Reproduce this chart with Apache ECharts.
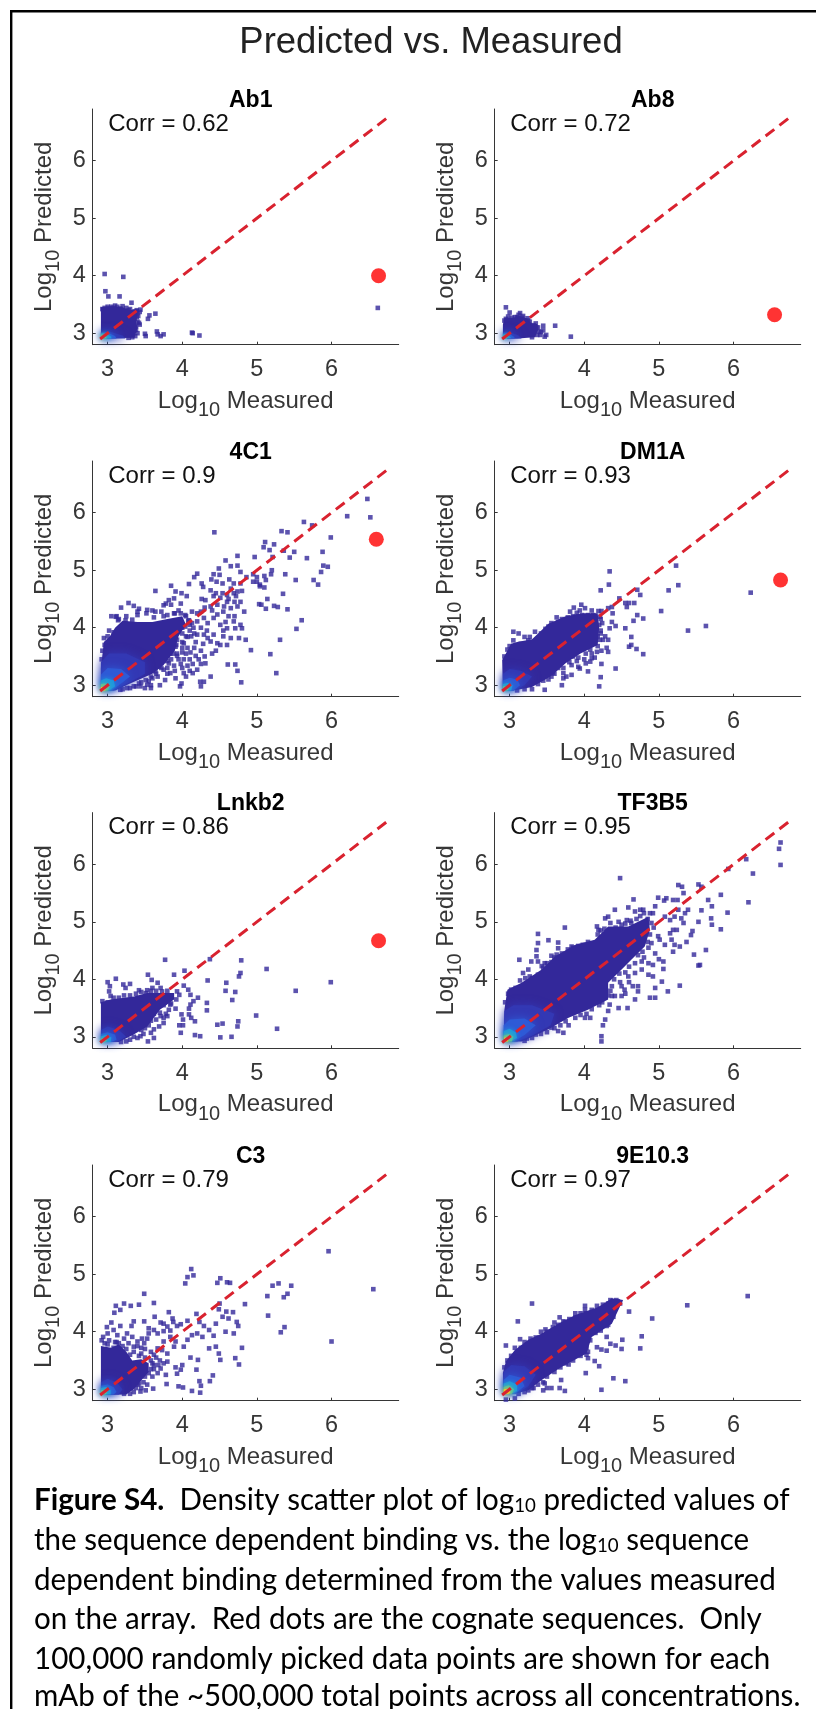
<!DOCTYPE html>
<html><head><meta charset="utf-8">
<style>html,body{margin:0;padding:0;background:#fff}#c{width:816px;height:1709px}</style>
<script src="https://cdn.jsdelivr.net/npm/echarts@6/dist/echarts.min.js"></script>
</head><body><div id="c"></div>
<script>
const mainTitle = 'Predicted vs. Measured';
const panelNames = ['Ab1','Ab8','4C1','DM1A','Lnkb2','TF3B5','C3','9E10.3'];
const corrValues = ['0.62','0.72','0.9','0.93','0.86','0.95','0.79','0.97'];
const tickValues = [3,4,5,6];
const diagonal = [[2.9,2.9],[6.8,6.8]];
const cognate = [[6.63,4.0],[6.55,3.32],[6.6,5.54],[6.63,4.83],[6.63,4.67],null,null,null];

// scattered points, as x,y pairs
const pointsAb1 = [2.96,4.03,3.21,3.98,2.97,3.73,3.01,3.64,3.16,3.64,3.32,3.53,6.62,3.44,3.64,3.34,3.56,3.31,3.54,3.25,3.5,2.99,3.51,2.95,3.66,3.03,3.67,2.98,3.71,2.95,3.75,2.98,4.13,3.01,4.14,3.0,4.23,2.96,3.44,3.41,3.4,3.35,3.42,3.18,3.38,3.06,3.1,3.48,3.0,3.46,3.17,3.43,3.25,3.44,3.36,3.38,2.96,3.44,3.05,3.46,3.39,3.28,3.37,2.95,3.3,3.42,
 2.93,3.42,3.02,3.43,3.08,3.44,3.13,3.46,3.2,3.47,3.28,3.4,3.34,3.36,3.39,3.4,3.43,3.37,3.41,3.3,3.36,3.25,3.4,3.2,3.43,3.15,3.38,3.12,3.4,3.0,3.36,3.05,3.33,2.93,3.28,2.92];
const pointsAb8 = [2.95,3.45,3.0,3.36,3.14,3.35,3.61,3.13,3.45,3.13,3.82,2.94,3.49,2.97,3.47,2.94,3.41,2.97,3.18,3.3,2.98,3.29,3.03,3.27,3.1,3.28,3.24,3.26,3.35,3.17,3.38,3.1,3.25,3.22,2.95,3.25,
 2.93,3.22,3.0,3.2,3.07,3.28,3.12,3.32,3.17,3.27,3.21,3.22,3.27,3.2,3.32,3.14,3.36,3.1,3.39,3.03,3.37,2.97,3.3,2.93,3.45,3.05,3.42,3.02];
const points4C1 = [6.48,6.24,6.52,5.92,6.21,5.94,5.63,5.84,5.74,5.78,5.99,5.57,5.33,5.68,5.41,5.66,4.43,5.66,5.11,5.49,5.23,5.45,5.09,5.40,5.17,5.35,5.36,5.34,5.5,5.32,5.88,5.32,5.21,5.23,5.44,5.22,5.67,5.21,4.97,5.23,4.74,5.25,4.58,5.17,4.65,5.07,4.74,5.08,4.49,5.03,5.89,5.08,5.95,5.06,5.86,4.97,5.2,5.0,5.19,4.93,5.38,4.93,4.78,4.97,4.2,4.94,4.16,4.88,4.42,4.93,4.5,4.92,5.1,4.9,5.0,4.88,5.76,4.83,5.82,4.75,5.52,4.83,4.86,4.88,4.95,4.93,5.12,4.83,5.0,4.8,5.04,4.75,5.1,4.7,4.95,4.8,
3.64,4.64,3.85,4.73,3.91,4.63,3.99,4.6,3.82,4.48,3.89,4.51,3.98,4.42,4.06,4.55,4.09,4.76,4.26,4.77,4.28,4.71,4.39,4.84,4.46,4.8,4.54,4.77,4.63,4.84,4.69,4.77,4.78,4.77,4.8,4.64,4.65,4.68,4.6,4.57,4.54,4.6,4.51,4.52,4.69,4.6,4.74,4.63,4.26,4.5,4.31,4.48,4.38,4.37,4.47,4.4,4.56,4.37,4.65,4.34,4.74,4.37,4.78,4.45,4.83,4.28,
4.13,4.28,4.2,4.25,4.25,4.28,4.29,4.17,4.2,4.11,4.34,4.08,4.42,4.17,4.47,4.23,4.51,4.05,4.6,3.99,4.69,4.11,4.78,4.05,4.8,3.99,4.71,3.99,4.76,3.82,4.65,3.82,4.85,3.79,4.2,3.88,4.29,3.88,4.34,3.82,4.42,3.88,4.38,3.76,4.47,3.73,4.51,3.7,4.6,3.7,4.25,3.6,4.16,3.65,4.11,3.57,4.18,3.51,4.07,3.65,4.0,3.57,4.02,3.45,3.93,3.51,3.89,3.34,3.98,3.37,4.07,3.34,4.14,3.37,4.25,3.37,4.31,3.38,4.2,3.27,4.14,3.21,4.02,3.21,3.91,3.12,3.84,3.21,3.77,3.09,3.7,3.0,3.99,3.03,3.97,2.98,4.24,3.06,4.25,2.98,4.29,3.06,4.38,3.15,4.61,3.36,4.71,3.36,4.74,3.25,4.79,3.05,4.92,3.61,5.18,3.54,5.26,3.21,5.31,3.79,5.53,3.98,5.6,4.13,5.41,4.32,5.23,4.38,5.28,4.36,5.03,4.41,5.06,4.4,5.12,4.33,5.14,4.5,5.35,4.59,5.04,4.72,
3.18,4.35,3.28,4.43,3.35,4.38,3.42,4.33,3.52,4.25,3.6,4.3,3.72,4.28,3.78,4.42,3.85,4.4,3.95,4.3,3.05,4.2,3.12,4.2,3.15,4.15,3.25,4.2,3.4,4.22,3.62,4.18,3.75,4.2,2.95,3.82,3.0,3.85,3.02,3.95,3.08,3.92,3.9,4.25,4.05,4.2,3.97,4.05,4.08,4.12,4.1,3.95,4.05,3.85,4.0,3.75,3.92,3.7,3.88,3.55,3.8,3.42,3.72,3.3,3.6,3.12,3.55,3.07,3.45,3.05,3.38,2.98,3.3,2.95,3.2,2.93,3.5,2.95,3.58,3.0,3.65,3.2,3.8,3.2,
3.11,4.19,3.14,4.13,3.24,4.13,3.33,4.14,3.4,4.28,3.53,4.31,3.64,4.28,3.75,4.39,3.8,4.22,3.89,4.25,3.98,4.25,4.04,4.22,4.09,4.13,4.13,4.08,4.04,4.02,4.16,3.9,4.07,3.84,4.0,3.9,3.93,3.79,4.02,3.73,3.91,3.67,3.84,3.55,3.93,3.55,3.75,3.44,3.82,3.38,3.69,3.32,3.75,3.27,3.64,3.24,3.58,3.15,3.67,3.15,3.51,3.09,3.42,3.03,3.53,3.01,3.35,2.98,3.26,2.95,3.17,2.92,3.44,2.98,3.58,2.95,
4.0,4.0,3.95,4.1,4.1,4.05,4.15,4.0,4.25,4.0,4.33,3.95,4.12,3.85,4.18,3.75,4.28,3.72,4.05,3.55,4.0,3.65,3.95,3.45,3.85,3.45,3.9,3.25,4.0,3.3,4.1,3.45,4.05,3.15,3.8,3.3,4.1,3.25,4.22,3.45,4.3,3.5,4.4,3.55,4.45,3.6,4.55,3.85,4.55,3.95,4.58,4.1,4.62,4.2,4.55,4.28,4.7,4.2,4.4,4.3,4.3,4.35,4.6,4.45,4.7,4.45,4.72,4.55,4.62,4.5,4.45,4.6,4.38,4.65,4.42,4.55,2.93,3.6,2.96,3.7,2.92,3.45,3.03,3.78];
const pointsDM1A = [4.34,4.98,5.23,5.08,4.33,4.75,4.22,4.65,5.26,4.74,5.13,4.65,6.23,4.61,4.71,4.66,4.75,4.57,4.47,4.51,4.55,4.43,4.6,4.43,4.67,4.43,4.57,4.36,5.03,4.29,4.71,4.22,4.79,4.16,4.66,4.12,4.37,4.36,4.32,4.34,4.38,4.25,4.37,4.1,4.42,4.03,4.34,3.99,4.55,3.99,5.39,3.95,5.63,4.03,4.63,3.84,4.63,3.7,4.6,3.67,4.7,3.63,4.79,3.54,4.32,3.79,4.25,3.79,4.32,3.58,4.23,3.6,4.17,3.58,4.23,3.37,4.1,3.47,4.14,3.48,4.02,3.38,4.08,3.41,4.42,3.29,4.22,3.14,4.2,2.98,4.05,3.24,3.92,3.32,3.94,3.29,3.83,3.35,3.76,3.15,3.7,3.0,3.47,2.92,3.56,3.15,3.6,3.2,3.83,3.18,3.72,3.21,
3.05,3.93,3.12,3.9,3.34,3.93,3.2,3.84,3.27,3.84,3.63,4.18,3.56,4.08,3.74,4.1,3.81,4.28,3.86,4.35,3.94,4.3,3.96,4.4,4.01,4.34,4.1,4.3,4.19,4.29,4.23,4.29,3.9,4.26,4.21,4.19,4.24,4.08,4.22,3.9,4.21,3.79,
2.93,3.5,2.97,3.62,3.0,3.68,3.05,3.78,3.15,3.72,3.25,3.78,3.38,3.75,3.42,3.9,3.48,3.98,3.52,4.02,3.6,4.05,3.65,4.1,3.7,4.15,3.78,4.18,3.85,4.2,3.92,4.2,3.97,4.22,4.05,4.22,4.12,4.22,4.22,4.15,4.2,4.05,4.22,3.95,4.18,3.85,4.13,3.75,4.18,3.68,4.08,3.62,4.02,3.55,3.92,3.48,3.85,3.5,3.8,3.4,3.72,3.3,3.65,3.3,3.58,3.22,3.52,3.1,3.45,3.08,3.38,3.02,3.3,2.93,3.2,2.93,3.1,2.91,3.9,3.42,3.72,3.12,4.0,3.45,4.1,3.55,4.3,3.65,4.28,3.85];
const pointsLnkb2 = [3.77,4.34,4.79,4.33,5.13,4.18,4.37,4.35,3.89,4.08,4.03,4.15,3.54,4.08,3.59,3.99,3.67,3.94,3.11,4.01,3.0,3.95,3.03,3.88,3.02,3.79,3.04,3.71,3.21,3.91,3.3,3.92,3.24,3.85,3.42,3.81,3.53,3.81,3.51,3.76,3.71,3.85,3.73,3.79,4.34,3.98,4.59,3.94,4.78,4.11,4.76,4.05,4.58,3.8,4.71,3.78,4.67,3.64,5.52,3.8,5.99,3.95,3.93,3.79,3.96,3.73,4.02,3.89,4.08,3.82,4.11,3.73,4.21,3.68,4.15,3.62,4.11,3.56,4.09,3.49,4.33,3.59,4.33,3.46,3.99,3.39,4.01,3.3,4.09,3.39,4.12,3.33,4.17,3.27,3.96,3.2,4.01,3.2,3.98,3.07,4.17,3.03,4.24,3.01,4.99,3.37,4.75,3.27,4.74,3.18,5.27,3.14,4.47,3.21,4.54,3.23,4.51,2.99,4.66,3.0,3.91,3.49,3.82,3.47,3.8,3.36,3.75,3.33,3.75,3.24,3.69,3.18,3.62,3.13,3.58,3.07,3.62,2.98,3.54,2.92,3.84,3.56,3.67,3.53,3.4,2.98,3.44,3.01,3.71,3.36,
2.93,3.62,3.0,3.6,3.08,3.68,3.15,3.68,3.22,3.72,3.3,3.72,3.38,3.75,3.45,3.78,3.58,3.8,3.65,3.8,3.8,3.8,3.86,3.72,3.92,3.65,3.85,3.58,3.75,3.55,3.7,3.42,3.62,3.4,3.58,3.28,3.5,3.15,3.45,3.12,3.35,3.0,3.3,2.95,3.25,2.92,3.18,2.91,3.55,3.2,3.48,3.05,3.78,3.4,3.65,3.3,3.6,3.85,3.82,3.7];
const pointsTF3B5 = [6.63,6.38,6.61,6.27,6.63,5.99,6.17,6.09,6.26,5.84,6.2,5.34,5.93,5.92,4.48,5.76,5.26,5.64,5.31,5.61,5.53,5.65,5.57,5.61,5.33,5.5,5.1,5.41,5.07,5.37,4.99,5.42,5.19,5.38,5.25,5.38,4.66,5.39,5.66,5.38,5.83,5.47,5.71,5.27,5.57,5.2,5.92,5.16,5.7,5.06,5.71,4.95,5.83,4.87,5.53,5.0,5.39,5.21,5.35,5.15,5.26,5.21,5.21,5.09,5.3,5.06,5.33,4.98,5.15,5.03,5.08,5.09,5.45,4.84,5.43,4.77,5.19,4.86,5.24,4.86,5.15,4.8,5.17,4.69,5.21,4.6,5.28,4.57,5.19,4.48,5.37,4.65,5.47,4.43,5.63,4.51,5.55,4.25,5.53,4.24,5.28,3.89,5.12,3.79,5.04,3.96,4.95,3.85,5.06,4.31,5.06,4.18,4.92,4.25,4.86,4.28,4.86,4.08,4.92,4.05,4.88,3.68,4.95,3.68,4.9,4.63,4.99,4.75,5.08,4.6,5.01,4.69,4.92,5.15,4.88,5.15,4.95,5.27,4.59,5.25,4.75,5.21,4.68,5.18,4.79,5.21,4.41,5.21,4.32,5.09,4.28,5.06,4.17,4.92,4.19,4.86,4.46,5.0,4.57,5.03,4.63,4.98,
3.74,4.9,3.38,4.79,3.38,4.63,3.52,4.68,3.65,4.64,3.65,4.54,3.56,4.41,3.63,4.43,3.13,4.34,3.29,4.31,3.36,4.51,3.36,4.4,3.38,4.31,3.43,4.23,3.47,4.28,3.18,4.11,3.25,4.17,3.21,4.02,3.27,4.05,3.34,3.99,3.83,4.57,3.92,4.58,
4.23,2.92,4.23,3.01,4.25,3.2,4.28,3.3,4.08,3.33,4.01,3.33,3.79,3.2,3.72,3.07,3.65,3.1,3.23,2.97,3.35,3.04,3.56,3.16,4.46,3.5,4.58,3.5,4.32,3.45,4.34,3.56,4.5,3.71,4.54,3.82,4.68,3.65,4.72,3.79,4.72,3.88,4.68,4.11,4.77,4.17,4.77,4.31,4.59,4.05,4.5,3.88,4.41,3.71,4.37,3.71,
2.94,3.6,2.98,3.75,3.02,3.82,3.08,3.85,3.14,3.98,3.22,3.92,3.3,4.02,3.38,4.08,3.45,4.2,3.5,4.28,3.56,4.3,3.6,4.38,3.7,4.45,3.78,4.52,3.85,4.55,3.98,4.6,4.05,4.65,4.12,4.62,4.18,4.78,4.22,4.85,4.27,4.88,4.35,4.98,4.42,4.9,4.5,4.95,4.55,4.97,4.62,5.02,4.7,5.05,4.75,5.1,4.8,5.15,4.85,5.05,4.9,4.98,4.93,4.9,4.88,4.78,4.85,4.65,4.86,4.55,4.78,4.48,4.72,4.42,4.8,4.38,4.68,4.28,4.6,4.22,4.55,4.12,4.47,4.1,4.4,4.0,4.37,3.88,4.35,3.8,4.32,3.72,4.24,3.6,4.2,3.55,4.1,3.48,4.03,3.4,3.95,3.38,3.88,3.33,3.75,3.27,3.68,3.2,3.6,3.15,3.5,3.08,3.42,3.05,3.3,2.98,3.2,2.93,4.95,4.45,5.0,4.35,4.6,3.95,4.65,3.88,4.55,3.75,4.48,3.95];
const pointsC3 = [6.56,4.74,5.96,5.4,6.0,3.83,3.49,4.66,3.62,4.5,3.11,4.45,3.09,4.33,3.17,4.38,3.22,4.49,3.31,4.45,3.42,4.47,4.12,5.09,4.07,4.95,4.15,4.98,4.04,4.84,4.47,4.85,4.51,4.93,4.6,4.86,4.64,4.85,4.84,4.48,4.5,4.49,4.49,4.39,4.59,4.35,4.68,4.34,4.62,4.23,4.54,4.26,4.45,4.14,4.73,4.17,4.75,4.1,4.58,4.0,4.69,3.97,4.19,4.31,4.23,4.17,4.29,4.1,4.07,4.19,3.98,4.13,3.93,4.1,3.82,4.34,3.87,4.23,3.88,4.17,3.63,4.26,3.71,4.16,3.75,4.14,3.8,4.09,3.75,4.01,3.84,4.02,3.49,4.18,3.35,4.18,3.32,4.1,3.17,4.1,3.05,4.16,2.99,4.08,3.08,4.03,3.0,3.97,2.94,3.91,3.13,3.94,3.55,4.06,3.62,4.03,3.67,3.97,3.55,3.97,3.46,3.88,3.53,3.88,3.26,3.97,3.33,3.91,3.22,3.88,3.4,3.83,3.49,3.8,3.35,3.74,4.2,3.97,4.27,3.91,4.13,3.94,4.07,3.86,4.02,3.74,4.42,3.93,4.36,4.03,3.84,3.91,3.91,3.83,3.89,3.74,3.75,3.83,3.67,3.71,3.58,3.65,3.73,3.68,3.8,3.62,4.36,3.71,4.45,3.74,4.49,3.62,4.51,3.51,4.8,3.72,4.71,3.54,4.76,3.43,4.11,3.55,4.21,3.51,4.19,3.34,4.0,3.42,3.98,3.34,3.93,3.27,3.91,3.38,3.8,3.48,3.71,3.36,3.78,3.25,3.67,3.28,3.55,3.28,3.79,3.09,3.95,3.05,4.01,3.03,4.23,3.14,4.25,3.06,4.24,2.94,4.13,2.97,4.37,3.14,4.41,3.24,3.61,3.01,3.51,2.98,3.44,2.96,3.4,3.08,3.53,3.08,5.14,4.62,5.21,4.8,5.29,4.84,5.46,4.8,5.41,4.66,5.36,4.6,5.15,4.28,5.32,3.99,5.37,4.08,3.02,3.85,3.1,3.82,3.28,3.8,3.15,3.8,3.6,3.45,3.45,3.62,3.62,3.35,
2.92,3.85,2.96,3.8,3.0,3.78,3.08,3.72,3.12,3.82,3.2,3.75,3.25,3.7,3.3,3.6,3.35,3.65,3.42,3.58,3.5,3.55,3.58,3.5,3.62,3.42,3.58,3.35,3.6,3.22,3.5,3.22,3.48,3.12,3.42,3.1,3.38,3.02,3.35,2.95,3.3,2.92,3.22,2.92,3.45,3.02,3.65,3.55,3.7,3.5,3.75,3.45,3.68,3.42,3.62,3.6,3.5,3.7,3.4,3.75,3.45,3.72];
const points9E10 = [6.19,4.62,5.38,4.46,4.91,4.23,4.6,4.35,3.3,4.49,3.11,4.18,2.95,3.76,4.01,4.45,4.01,4.38,3.88,4.32,3.67,4.25,3.6,4.16,3.74,4.17,3.48,4.04,3.14,3.87,4.77,3.92,4.75,3.71,4.51,3.86,4.5,3.7,4.3,3.91,4.42,3.76,4.35,3.79,4.3,3.67,4.23,3.69,4.17,3.73,4.14,3.49,4.2,3.4,4.02,3.28,4.39,3.19,4.55,3.14,4.23,2.99,3.79,3.43,3.69,3.16,3.67,3.02,3.74,2.97,3.45,2.98,3.5,3.02,3.56,3.02,3.47,3.1,3.32,3.02,3.25,2.98,2.95,2.82,3.07,2.84,4.05,3.54,4.03,3.6,4.32,4.12,4.39,4.26,4.21,4.4,4.32,4.49,4.39,4.52,4.43,4.55,4.48,4.49,4.28,4.2,
2.93,3.38,2.97,3.5,3.02,3.58,3.07,3.72,3.15,3.72,3.2,3.82,3.28,3.88,3.35,3.9,3.42,4.0,3.5,4.0,3.58,4.08,3.65,4.12,3.72,4.18,3.8,4.22,3.88,4.25,3.95,4.32,4.02,4.32,4.1,4.38,4.17,4.45,4.25,4.47,4.35,4.55,4.45,4.53,4.4,4.4,4.35,4.25,4.3,4.1,4.22,4.02,4.15,3.98,4.08,3.85,4.03,3.72,4.05,3.65,3.95,3.58,3.85,3.5,3.75,3.45,3.68,3.38,3.6,3.3,3.5,3.22,3.45,3.12,3.38,3.08,3.3,3.02,3.2,2.95,3.12,2.92];

// outline of the solid part of each cloud, then nested density zones from low to high
const cloudAb1 = [[[2.91,2.91],[2.91,3.45],[3.05,3.47],[3.2,3.45],[3.3,3.4],[3.42,3.42],[3.38,3.2],[3.4,3.1],[3.36,2.92]],
 [[2.91,2.91],[2.91,3.02],[3.02,3.03],[3.2,2.96],[3.24,2.91]],[[2.91,2.91],[2.91,3.01],[3.0,3.01],[3.1,2.95],[3.12,2.91]],[[2.91,2.91],[2.91,3.0],[2.98,2.99],[3.05,2.94],[3.05,2.91]],[[2.91,2.91],[2.91,2.98],[2.97,2.96],[2.99,2.91]],[[2.91,2.91],[2.91,2.95],[2.94,2.94],[2.94,2.91]]];
const cloudAb8 = [[[2.91,2.91],[2.91,3.15],[2.93,3.27],[3.05,3.27],[3.13,3.3],[3.22,3.26],[3.3,3.17],[3.37,3.16],[3.38,3.05],[3.34,2.93],[3.1,2.91]],
 [[2.91,2.91],[2.91,3.02],[3.0,3.02],[3.12,2.96],[3.16,2.91]],[[2.91,2.91],[2.91,3.0],[2.98,3.0],[3.06,2.94],[3.07,2.91]],[[2.91,2.91],[2.91,2.98],[2.96,2.98],[3.02,2.92]],[[2.91,2.91],[2.91,2.96],[2.95,2.95],[2.97,2.91]],[[2.91,2.91],[2.91,2.94],[2.93,2.93],[2.93,2.91]]];
const cloud4C1 = [[[2.91,2.91],[2.91,3.3],[2.95,3.75],[3.03,3.85],[3.1,4.0],[3.2,4.12],[3.4,4.1],[3.6,4.1],[3.8,4.15],[4.0,4.2],[4.05,4.05],[3.95,3.85],[3.9,3.6],[3.75,3.35],[3.6,3.2],[3.3,3.03],[3.1,2.91]],
 [[2.91,2.91],[2.91,3.4],[3.02,3.55],[3.25,3.55],[3.5,3.4],[3.5,3.2],[3.3,3.05],[3.08,2.91]],[[2.91,2.91],[2.91,3.18],[3.0,3.3],[3.18,3.28],[3.3,3.15],[3.15,3.0],[3.05,2.91]],[[2.91,2.91],[2.91,3.08],[2.98,3.12],[3.08,3.08],[3.1,2.98],[3.02,2.91]],[[2.91,2.91],[2.91,3.02],[2.97,3.03],[3.03,2.98],[3.0,2.91]],[[2.91,2.91],[2.91,2.97],[2.96,2.97],[2.97,2.91]]];
const cloudDM1A = [[[2.91,2.91],[2.9,3.44],[2.95,3.55],[3.02,3.72],[3.1,3.75],[3.3,3.8],[3.52,4.07],[3.75,4.2],[4.0,4.25],[4.18,4.25],[4.2,4.0],[4.18,3.7],[3.95,3.55],[3.75,3.38],[3.55,3.15],[3.3,2.97],[3.05,2.91]],
 [[2.91,2.91],[2.91,3.2],[3.0,3.28],[3.15,3.25],[3.3,3.15],[3.2,3.0],[3.05,2.91]],[[2.91,2.91],[2.91,3.08],[3.0,3.13],[3.1,3.1],[3.14,3.0],[3.05,2.91]],[[2.91,2.91],[2.91,3.02],[2.97,3.04],[3.04,3.0],[3.02,2.91]],[[2.91,2.91],[2.91,2.98],[2.96,2.98],[2.99,2.94],[2.97,2.91]],[[2.91,2.91],[2.91,2.94],[2.93,2.94],[2.93,2.91]]];
const cloudLnkb2 = [[[2.91,2.92],[2.91,3.6],[3.04,3.65],[3.35,3.7],[3.53,3.76],[3.75,3.76],[3.89,3.76],[3.89,3.65],[3.7,3.47],[3.53,3.18],[3.35,3.04],[3.15,2.91]],
 [[2.91,2.91],[2.91,3.12],[3.0,3.18],[3.15,3.12],[3.25,3.0],[3.15,2.93],[3.05,2.91]],[[2.91,2.91],[2.91,3.05],[3.0,3.08],[3.1,3.04],[3.12,2.95],[3.05,2.91]],[[2.91,2.91],[2.91,3.01],[2.98,3.03],[3.05,2.99],[3.04,2.91]],[[2.91,2.91],[2.91,2.97],[2.96,2.98],[2.99,2.94],[2.97,2.91]],[[2.91,2.91],[2.91,2.94],[2.93,2.94],[2.93,2.91]]];
const cloudTF3B5 = [[[2.92,2.92],[2.93,3.47],[2.97,3.82],[3.16,3.94],[3.43,4.17],[3.61,4.4],[3.88,4.6],[4.14,4.69],[4.32,4.92],[4.59,4.92],[4.86,5.09],[4.88,4.86],[4.81,4.57],[4.63,4.34],[4.5,4.17],[4.32,3.94],[4.32,3.65],[4.05,3.47],[3.79,3.33],[3.52,3.13],[3.16,2.92]],
 [[2.92,2.92],[2.93,3.45],[3.05,3.55],[3.3,3.55],[3.6,3.4],[3.55,3.2],[3.3,3.02],[3.1,2.92]],[[2.92,2.92],[2.92,3.2],[3.0,3.3],[3.2,3.32],[3.35,3.2],[3.2,3.03],[3.05,2.92]],[[2.92,2.92],[2.92,3.1],[3.0,3.14],[3.08,3.08],[3.1,2.98],[3.0,2.92]],[[2.92,2.92],[2.92,3.02],[2.99,3.05],[3.05,3.0],[3.03,2.92]],[[2.92,2.92],[2.93,2.99],[2.98,2.98],[2.98,2.92]]];
const cloudC3 = [[[2.91,2.9],[2.91,3.75],[3.05,3.72],[3.15,3.78],[3.25,3.65],[3.33,3.5],[3.45,3.52],[3.55,3.45],[3.55,3.3],[3.45,3.15],[3.35,3.0],[3.25,2.91]],
 [[2.91,2.91],[2.91,3.12],[3.0,3.18],[3.12,3.12],[3.2,3.0],[3.15,2.91]],[[2.91,2.91],[2.91,3.06],[3.0,3.08],[3.08,3.04],[3.12,2.95],[3.08,2.91]],[[2.91,2.91],[2.91,3.02],[2.98,3.04],[3.04,2.98],[3.04,2.91]],[[2.91,2.91],[2.91,2.98],[2.96,2.99],[2.99,2.94],[2.97,2.91]],[[2.91,2.91],[2.91,2.95],[2.94,2.94],[2.94,2.91]]];
const cloud9E10 = [[[2.92,2.92],[2.91,3.28],[2.95,3.48],[3.07,3.68],[3.25,3.86],[3.43,3.97],[3.65,4.14],[3.88,4.29],[4.19,4.43],[4.37,4.58],[4.52,4.55],[4.37,4.14],[4.1,3.91],[4.03,3.62],[3.7,3.39],[3.43,3.16],[3.25,2.98],[3.07,2.92]],
 [[2.92,2.92],[2.92,3.3],[3.02,3.42],[3.2,3.4],[3.35,3.25],[3.25,3.05],[3.08,2.92]],[[2.92,2.92],[2.92,3.16],[3.0,3.25],[3.15,3.2],[3.2,3.05],[3.07,2.92]],[[2.92,2.92],[2.92,3.1],[3.0,3.14],[3.1,3.08],[3.1,2.97],[3.02,2.92]],[[2.92,2.92],[2.92,3.04],[2.99,3.07],[3.06,3.0],[3.03,2.92]],[[2.92,2.92],[2.92,3.0],[2.98,3.01],[3.01,2.95],[2.99,2.92]]];

const panelPoints = [pointsAb1,pointsAb8,points4C1,pointsDM1A,pointsLnkb2,pointsTF3B5,pointsC3,points9E10];
const panelClouds = [cloudAb1,cloudAb8,cloud4C1,cloudDM1A,cloudLnkb2,cloudTF3B5,cloudC3,cloud9E10];
const captionLines = [
 '{b|Figure S4.}  Density scatter plot of log{s|10} predicted values of',
 'the sequence dependent binding vs. the log{s|10} sequence',
 'dependent binding determined from the values measured',
 'on the array.  Red dots are the cognate sequences.  Only',
 '100,000 randomly picked data points are shown for each',
 'mAb of the ~500,000 total points across all concentrations.'
];

const densityColors = ['#33289a','#3338b4','#2e5ad6','#1f98dc','#4fbfa0','#f0c52e'];
const inkColor = '#363636';
const gridLefts = [92.7,494.7], gridBottoms = [344.7,696.7,1048.3,1400.7], gridW = 306, gridH = 235.7;
const sansFont = '"Liberation Sans", Arial, sans-serif';
const richFor = size => ({
  a:{fontFamily:sansFont,fontSize:size,color:inkColor,lineHeight:39},
  s:{fontFamily:sansFont,fontSize:20,color:inkColor,lineHeight:39,verticalAlign:'bottom'}
});
const grids=[],xAxes=[],yAxes=[],series=[],titles=[],graphics=[];
titles.push({text:mainTitle,left:426,top:19,textAlign:'center',textStyle:{fontFamily:sansFont,fontSize:36.5,fontWeight:'normal',color:'#222'}});
graphics.push({type:'rect',silent:true,shape:{x:10,y:10,width:806,height:2.4},style:{fill:'#000'}});
graphics.push({type:'rect',silent:true,shape:{x:10,y:10,width:2.4,height:1699},style:{fill:'#000'}});

panelNames.forEach((name,i)=>{
  const col=i%2,row=Math.floor(i/2),left=gridLefts[col],bottom=gridBottoms[row],top=bottom-gridH;
  grids.push({left,top,width:gridW,height:gridH});
  const axisCommon={type:'value',min:2.8,max:6.9,gridIndex:i,nameLocation:'middle',splitLine:{show:false},
    axisLine:{show:true,onZero:false,lineStyle:{color:inkColor,width:1}},
    axisTick:{show:true,inside:true,length:3,customValues:tickValues,lineStyle:{color:inkColor}}};
  const lab={fontFamily:sansFont,fontSize:23.5,color:inkColor,customValues:tickValues,hideOverlap:false,showMinLabel:true,showMaxLabel:true};
  xAxes.push({...axisCommon,name:'{a|Log}{s|10}{a| Measured}',nameGap:37,nameTextStyle:{rich:richFor(24)},axisLabel:{...lab,margin:13}});
  yAxes.push({...axisCommon,name:'{a|Log}{s|10}{a| Predicted}',nameGap:29,nameTextStyle:{rich:richFor(24)},axisLabel:{...lab,margin:7}});
  titles.push({text:name,left:left+153,top:top-25,textAlign:'center',textStyle:{fontFamily:sansFont,fontSize:23,fontWeight:'bold',color:'#000'}});
  graphics.push({type:'text',silent:true,x:left+15.5,y:top+15,style:{text:'Corr = '+corrValues[i],fontFamily:sansFont,fontSize:24,fill:'#111',verticalAlign:'middle'}});
  const flat=panelPoints[i],pts=[];
  for(let k=0;k<flat.length;k+=2)pts.push([flat[k],flat[k+1]]);
  series.push({type:'scatter',xAxisIndex:i,yAxisIndex:i,data:pts,symbol:'rect',symbolSize:4.6,silent:true,z:2,itemStyle:{color:densityColors[0]},animation:false});
  const polys=panelClouds[i];
  series.push({type:'custom',xAxisIndex:i,yAxisIndex:i,silent:true,z:3,animation:false,clip:false,
    encode:{x:0,y:1},data:polys.map(p=>p[0]),
    renderItem:(params,api)=>{
      const idx=params.dataIndex;
      return {type:'polygon',shape:{points:polys[idx].map(p=>api.coord(p))},
        style:{fill:densityColors[idx],shadowBlur:idx?(idx<3?10:5):0,shadowColor:densityColors[idx]}};
    }});
  series.push({type:'line',xAxisIndex:i,yAxisIndex:i,data:diagonal,symbol:'none',silent:true,z:4,animation:false,
    lineStyle:{color:'#d9222f',width:3,type:[11,6.5]}});
  if(cognate[i])series.push({type:'scatter',xAxisIndex:i,yAxisIndex:i,data:[cognate[i]],symbol:'circle',symbolSize:15,silent:true,z:5,animation:false,itemStyle:{color:'#ff0000'}});
});
const capY=[1500,1540,1580,1619,1659,1696];
captionLines.forEach((t,i)=>{
  graphics.push({type:'text',silent:true,x:34,y:capY[i],scaleX:0.985,style:{text:t,fontFamily:'Lato',fontSize:30,fill:'#000',verticalAlign:'middle',
    rich:{b:{fontFamily:'Lato',fontSize:30,fontWeight:'bold',fill:'#000'},s:{fontFamily:'Lato',fontSize:19,fill:'#000',verticalAlign:'bottom',padding:[12,0,0,0]}}}});
});
const chart=echarts.init(document.getElementById('c'),null,{renderer:'canvas'});
chart.setOption({animation:false,backgroundColor:'#fff',title:titles,grid:grids,xAxis:xAxes,yAxis:yAxes,series,graphic:graphics});
</script></body></html>
